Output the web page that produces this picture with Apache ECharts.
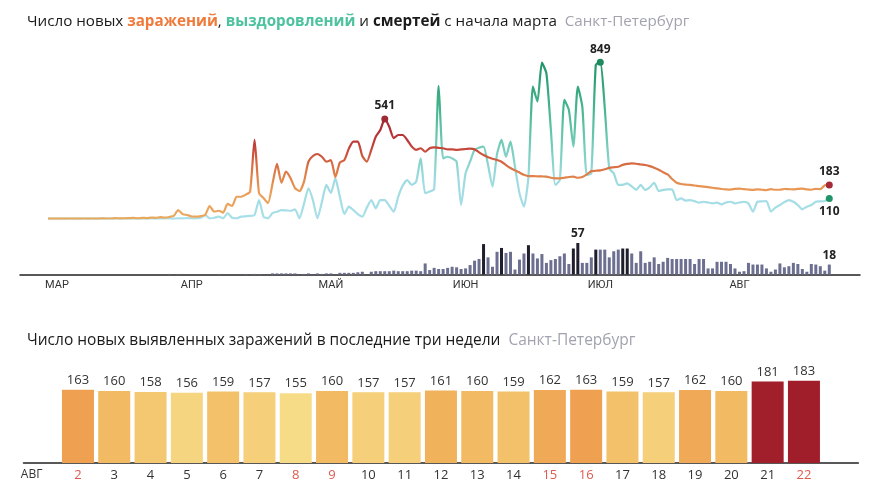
<!DOCTYPE html>
<html><head><meta charset="utf-8">
<script src="https://cdn.jsdelivr.net/npm/echarts@6/dist/echarts.min.js"></script>
<style>html,body{margin:0;padding:0;background:#fff}#c{width:880px;height:498px}</style>
</head><body><div id="c"></div>
<script>
// ---- data (days counted from 1 March) ----
const monthLabels = ['МАР','АПР','МАЙ','ИЮН','ИЮЛ','АВГ'];
const monthLabelDays = [2, 32, 63, 93, 123, 154];

// new infections before 2 Aug (days 0..153)
const infectionsBeforeAug = [
  0,0,0,0,0,1,0,0,1,0,1,0,2,1,1,3,2,2,3,4,2,5,3,6,5,8,6,9,
  15,47,25,20,12,11,14,20,69,38,43,33,
  80,69,119,119,130,146,427,139,112,85,
  190,297,194,255,221,166,150,200,310,340,
  351,336,309,318,226,305,318,380,418,418,
  340,309,373,445,481,541,499,437,454,454,
  427,391,373,382,363,382,387,384,382,376,
  376,373,376,378,380,376,360,345,333,325,
  318,309,291,275,262,250,238,231,231,230,
  229,228,222,219,219,222,226,228,222,226,
  240,258,260,262,268,276,279,282,292,297,
  300,298,294,291,285,276,266,252,240,215,
  195,188,185,183,180,177,174,171,168,164,
  161,159,158,162
];
// last three weeks (2..22 Aug)
const augDays = [2,3,4,5,6,7,8,9,10,11,12,13,14,15,16,17,18,19,20,21,22];
const augCases = [163,160,158,156,159,157,155,160,157,157,161,160,159,162,163,159,157,162,160,181,183];
const weekendDays = [2,8,9,15,16,22];

const recoveries = [
  0,0,0,0,0,0,0,0,0,0,0,0,0,0,0,0,0,1,0,0,1,0,0,1,0,0,2,1,0,
  2,2,3,2,2,5,20,2,5,11,2,
  31,5,2,11,13,15,20,101,11,2,
  30,38,47,45,43,51,2,80,165,101,
  2,90,183,139,219,119,25,65,47,25,
  11,60,101,56,101,101,70,38,119,180,
  210,183,201,327,138,147,160,720,327,336,
  327,309,74,246,309,373,385,391,291,174,
  350,427,336,418,282,138,65,228,716,635,
  846,788,481,183,210,644,590,391,716,607,
  237,246,834,849,599,273,246,183,183,192,
  175,156,183,156,170,195,150,156,159,159,
  101,110,98,101,95,87,92,88,83,87,
  78,88,92,83,88,92,83,38,92,94,
  96,38,60,74,90,101,92,74,51,65,
  74,92,94,96,110
];
const deaths = [
  0,0,0,0,0,0,0,0,0,0,0,0,0,0,0,0,0,0,0,0,0,0,0,0,0,0,
  0,1,0,1,0,0,0,0,0,0,0,0,1,0,
  0,0,0,0,1,0,1,1,0,0,
  2,2,2,2,2,2,0,1,2,0,
  2,1,2,2,0,3,3,3,3,4,
  5,0,5,6,6,6,6,7,6,6,6,7,7,6,
  20,8,12,10,10,12,14,13,10,11,
  17,25,28,55,31,14,41,48,39,41,
  9,27,38,53,38,29,37,21,26,28,
  33,38,19,47,57,21,21,31,45,45,
  45,31,42,45,47,47,38,21,42,21,
  23,31,19,23,30,28,28,28,28,28,
  19,28,28,11,11,23,23,23,19,11,
  5,6,21,18,18,18,11,5,9,20,
  13,15,21,19,10,5,19,18,15,7,
  18
];
const darkDeathDays = [97,101,107,117,118,122,128,129];

// ---- build ----
const infections = infectionsBeforeAug.concat(augCases);
const last = infections.length - 1;
const infMaxIdx = infections.indexOf(Math.max(...infections.slice(0, 150)));
const recMaxIdx = recoveries.indexOf(Math.max(...recoveries));
const deathMaxIdx = deaths.indexOf(Math.max(...deaths));

const xMin = -6.236, xMax = 180.84;
const lblStyle = {fontSize: 12, fontWeight: 'bold', color: '#222', fontFamily: 'Open Sans'};
const t1 = 15.2, t2 = 15.5;

const chart = echarts.init(document.getElementById('c'), null, {renderer: 'canvas'});
const option = {
  animation: false,
  backgroundColor: '#fff',
  title: [
    {left: 22, top: 9, text: '{n|Число новых }{o|заражений}{n|, }{g|выздоровлений}{n| и }{b|смертей}{n| с начала марта}{s|  Санкт-Петербург}',
     textStyle: {fontFamily: 'Open Sans', fontSize: t1, fontWeight: 'normal', rich: {
       n: {fontFamily: 'Open Sans', fontSize: t1, color: '#1a1a1a', fontWeight: 'normal'},
       o: {fontFamily: 'Open Sans', fontSize: t1, color: '#ef7a3a', fontWeight: 'bold'},
       g: {fontFamily: 'Open Sans', fontSize: t1, color: '#4cc29e', fontWeight: 'bold'},
       b: {fontFamily: 'Open Sans', fontSize: t1, color: '#1a1a1a', fontWeight: 'bold'},
       s: {fontFamily: 'Open Sans', fontSize: t1, color: '#a3a3b0', fontWeight: 'normal'}
     }}},
    {left: 22, top: 328, text: '{n|Число новых выявленных заражений в последние три недели}{s|  Санкт-Петербург}',
     textStyle: {fontFamily: 'Open Sans', fontSize: t2, fontWeight: 'normal', rich: {
       n: {fontFamily: 'Open Sans', fontSize: t2, color: '#1a1a1a', fontWeight: 'normal'},
       s: {fontFamily: 'Open Sans', fontSize: t2, color: '#a3a3b0', fontWeight: 'normal'}
     }}}
  ],
  grid: [
    {left: 20, right: 20, top: 34.3, height: 184.4},
    {left: 20, right: 20, top: 219.2, height: 55.3},
    {left: 23.5, right: 21.6, top: 373, height: 90}
  ],
  xAxis: [
    {gridIndex: 0, type: 'value', min: xMin, max: xMax, show: false},
    {gridIndex: 1, type: 'value', min: xMin, max: xMax,
     axisLine: {show: true, lineStyle: {color: '#222', width: 1.5}},
     axisTick: {show: false}, splitLine: {show: false},
     axisLabel: {customValues: monthLabelDays, fontFamily: 'Roboto', fontSize: 11, color: '#333', margin: 5,
       formatter: v => monthLabels[monthLabelDays.indexOf(v)] || ''}},
    {gridIndex: 2, type: 'category', data: ['АВГ'].concat(augDays.map(String), ['']),
     axisLine: {lineStyle: {color: '#222', width: 1.5}}, axisTick: {show: false},
     axisLabel: {interval: 0, fontFamily: 'Open Sans', fontSize: 13, margin: 6,
       color: (v, i) => weekendDays.indexOf(+v) >= 0 ? '#dd5a50' : '#333',
       formatter: (v, i) => i === 0 ? '{m|' + v + '}' : v,
       rich: {m: {fontFamily: 'Open Sans', fontSize: 12, color: '#333', padding: [0, 20, 0, 0]}}}}
  ],
  yAxis: [
    {gridIndex: 0, type: 'value', min: 0, max: 1000, show: false},
    {gridIndex: 1, type: 'value', min: 0, max: 100, show: false},
    {gridIndex: 2, type: 'value', min: 0, max: 200, show: false}
  ],
  visualMap: [
    {type: 'continuous', show: false, seriesIndex: 0, dimension: 1, min: 0, max: 849,
     inRange: {color: ['#a9dfe9', '#9edbe1', '#6ecab3', '#3fb088', '#22946a']}},
    {type: 'continuous', show: false, seriesIndex: 1, dimension: 1, min: 0, max: 541,
     inRange: {color: ['#e9a95d', '#eb9f59', '#db7444', '#c03c38', '#a52634']}},
    {type: 'continuous', show: false, seriesIndex: 3, min: 155, max: 183,
     inRange: {color: ['#f7dc88', '#f2bd64', '#ee9548', '#d4603a', '#b32f30', '#a31f2c', '#a01e2a']}}
  ],
  series: [
    {type: 'line', xAxisIndex: 0, yAxisIndex: 0, showSymbol: false, smooth: 0.2,
     lineStyle: {width: 2.2}, data: recoveries.map((v, i) => [i, v]),
     markPoint: {symbol: 'circle', symbolSize: 7, data: [
       {coord: [recMaxIdx, recoveries[recMaxIdx]], value: recoveries[recMaxIdx], itemStyle: {color: '#1f8a5e'}, label: Object.assign({position: 'top', distance: 3}, lblStyle)},
       {coord: [last, recoveries[last]], value: recoveries[last], itemStyle: {color: '#22946a'}, label: Object.assign({position: 'bottom', distance: 4}, lblStyle)}
     ]}},
    {type: 'line', xAxisIndex: 0, yAxisIndex: 0, showSymbol: false, smooth: 0.2,
     lineStyle: {width: 2.2}, data: infections.map((v, i) => [i, v]),
     markPoint: {symbol: 'circle', symbolSize: 7, data: [
       {coord: [infMaxIdx, infections[infMaxIdx]], value: infections[infMaxIdx], itemStyle: {color: '#9e2a35'}, label: Object.assign({position: 'top', distance: 4}, lblStyle)},
       {coord: [last, infections[last]], value: infections[last], itemStyle: {color: '#a52a35'}, label: Object.assign({position: 'top', distance: 4}, lblStyle)}
     ]}},
    {type: 'bar', xAxisIndex: 1, yAxisIndex: 1, barWidth: 3,
     data: deaths.map((v, i) => {
       const item = {value: [i, v], itemStyle: {color: darkDeathDays.indexOf(i) >= 0 ? '#1e1e2c' : '#6c6f90'}};
       if (i === deathMaxIdx || i === last) item.label = Object.assign({show: true, position: 'top', distance: 3}, lblStyle);
       return item;
     })},
    {type: 'bar', xAxisIndex: 2, yAxisIndex: 2, barWidth: 32,
     label: {show: true, position: 'top', distance: 3, fontFamily: 'Open Sans', fontSize: 13, color: '#333'},
     data: [null].concat(augCases, [null])}
  ]
};
chart.setOption(option);
</script></body></html>
